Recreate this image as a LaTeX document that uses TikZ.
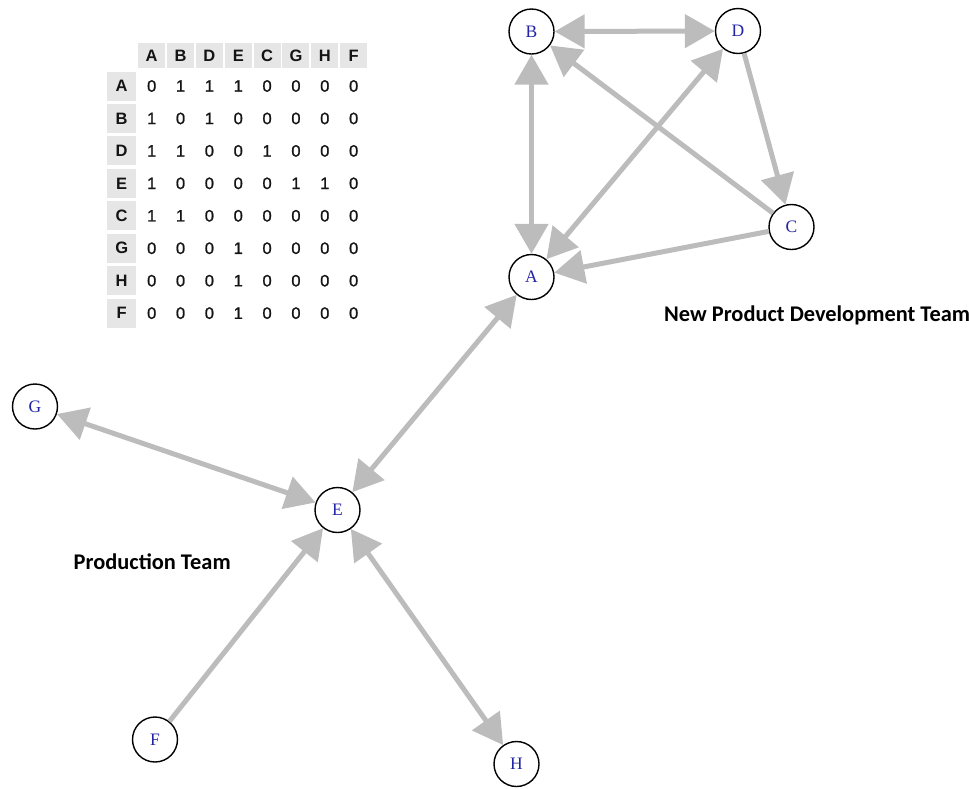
\documentclass[tikz,border=0pt]{standalone}
\usepackage{fontspec}
\setmainfont{Liberation Serif}
\newfontfamily\tabfont{Liberation Sans}
\newfontfamily\tabnum[FakeBold=1.2]{Liberation Sans}
\newfontfamily\labfont{Carlito}
\usetikzlibrary{arrows.meta}
\definecolor{edgegray}{RGB}{188,188,188}
\definecolor{cellgray}{RGB}{230,230,230}
\definecolor{nodeblue}{RGB}{35,35,165}
\definecolor{tabtext}{RGB}{20,20,20}
\tikzset{
  bigtri/.tip={Triangle[length=30pt,width=33pt]},
  vert/.style={circle, draw=black, line width=1.4pt, fill=white, minimum size=45pt,
    inner sep=0pt, text=nodeblue, font=\fontsize{17.5}{17.5}\selectfont},
  edge/.style={draw=edgegray, line width=5pt},
  one/.style={edge, -{bigtri}},
  both/.style={edge, {bigtri}-{bigtri}},
  team/.style={anchor=west, inner sep=0pt, font=\labfont\bfseries\fontsize{22.4}{22.4}\selectfont},
  colhead/.style={fill=cellgray, minimum width=27pt, minimum height=25pt, inner sep=0pt,
    text=tabtext, font=\tabfont\bfseries\fontsize{16.5}{16.5}\selectfont},
  rowhead/.style={fill=cellgray, minimum width=28.7pt, minimum height=29pt, inner sep=0pt,
    text=tabtext, font=\tabfont\bfseries\fontsize{16.5}{16.5}\selectfont},
  cellval/.style={inner sep=0pt, text=tabtext, font=\tabnum\fontsize{16.5}{16.5}\selectfont}
}
\begin{document}
\begin{tikzpicture}[x=1pt,y=-1pt]
\useasboundingbox (0,0) rectangle (969,788);
% adjacency table
\foreach \h [count=\i from 0] in {A,B,D,E,C,G,H,F}{
  \node[colhead] (h\i) at ({151.7+28.85*\i},55.7) {\h};
}
\foreach \r/\vals [count=\j from 0] in {A/{0,1,1,1,0,0,0,0},B/{1,0,1,0,0,0,0,0},D/{1,1,0,0,1,0,0,0},E/{1,0,0,0,0,1,1,0},C/{1,1,0,0,0,0,0,0},G/{0,0,0,1,0,0,0,0},H/{0,0,0,1,0,0,0,0},F/{0,0,0,1,0,0,0,0}}{
  \node[rowhead] (r\j) at (121.7,{86+32.45*\j}) {\r};
  \foreach \v [count=\i from 0] in \vals {
    \node[cellval] (c\j-\i) at ({151.7+28.85*\i},{86+32.45*\j}) {\v};
  }
}
% graph nodes
\node[vert] (B) at (531.5,31.5) {B};
\node[vert] (D) at (738,31) {D};
\node[vert] (C) at (791.5,227) {C};
\node[vert] (A) at (531.5,277) {A};
\node[vert] (G) at (35,406.5) {G};
\node[vert] (E) at (337.5,510) {E};
\node[vert] (F) at (155,739.5) {F};
\node[vert] (H) at (516.5,764) {H};
% edges
\draw[both] (B) -- (D);
\draw[both] (B) -- (A);
\draw[both] (D) -- (A);
\draw[one] (C) -- (B);
\draw[one] (D) -- (C);
\draw[one] (C) -- (A);
\draw[both] (A) -- (E);
\draw[both] (G) -- (E);
\draw[one] (F) -- (E);
\draw[both] (E) -- (H);
% team labels
\node[team] (npd) at (664,315.5) {New Product Development Team};
\node[team] (prod) at (73.5,562) {Production Team};
\end{tikzpicture}
\end{document}
